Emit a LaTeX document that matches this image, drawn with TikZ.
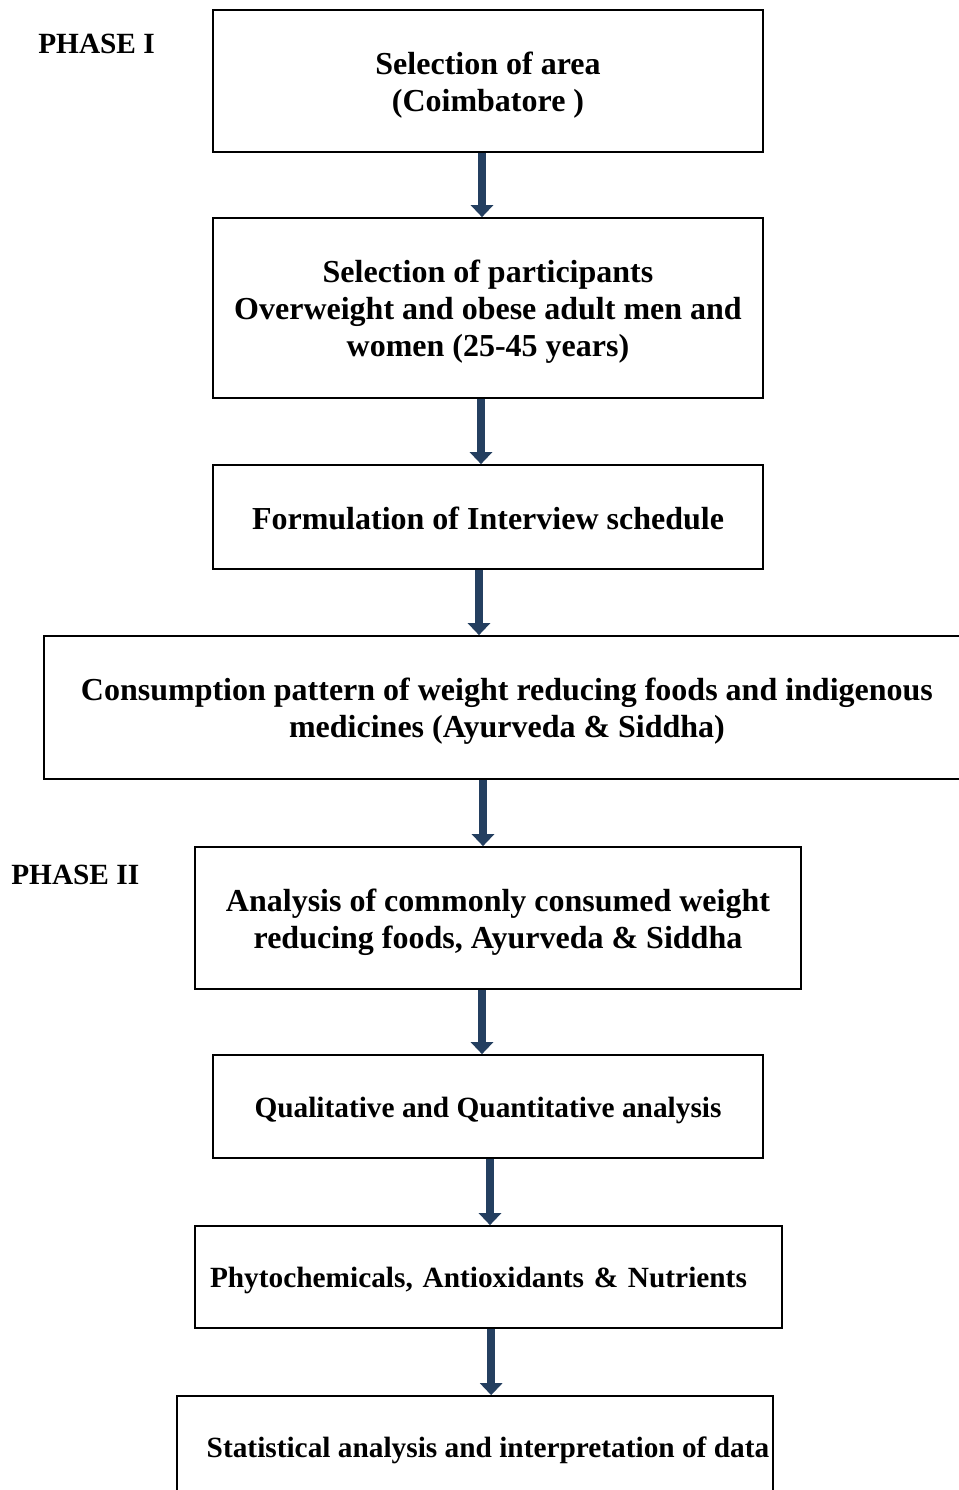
\documentclass[tikz,border=0pt]{standalone}
\usepackage{fontspec}
\setmainfont{Liberation Serif}
\usetikzlibrary{arrows.meta}
\definecolor{arrowblue}{RGB}{36,63,96}
\newcommand{\topgap}{\rule{0pt}{0.95em}}

\begin{document}
\begin{tikzpicture}[x=0.75pt,y=0.75pt,yscale=-1,xscale=1,
  stepbox/.style={draw=black,line width=1.3pt,align=center,inner sep=0pt,
    font=\fontsize{24}{27.75}\selectfont\bfseries,
    execute at begin node=\rule{0pt}{0.96em},
    execute at end node=\rule[-0.16em]{0pt}{0pt}},
  smallbox/.style={stepbox,font=\fontsize{22}{27.75}\selectfont\bfseries},
  phaselabel/.style={anchor=west,inner sep=0pt,font=\fontsize{22}{26}\selectfont\bfseries},
  flowarrow/.style={draw=arrowblue,line width=6pt,
    -{Triangle[width=16.5pt,length=9pt]},arrowblue}]
\useasboundingbox (0,0) rectangle (959,1490);
\clip (0,0) rectangle (959,1490);

% Text Node
\node (ph1) [phaselabel] at (38,44) {PHASE I};
% Text Node
\node (ph2) [phaselabel] at (11,875) {PHASE II};

%Shape: Rectangle
\node (b1) [stepbox,minimum width=412.5pt,minimum height=106.5pt] at (488,81)
  {\topgap Selection of area\\ (Coimbatore )};
%Shape: Rectangle
\node (b2) [stepbox,minimum width=412.5pt,minimum height=135pt] at (488,308)
  {\topgap Selection of participants\\ Overweight and obese adult men and\\ women (25-45 years)};
%Shape: Rectangle
\node (b3) [stepbox,minimum width=412.5pt,minimum height=78pt] at (488,517)
  {Formulation of Interview schedule};
%Shape: Rectangle
\node (b4) [stepbox,minimum width=694.5pt,minimum height=107.25pt] at (507,707.5)
  {\topgap Consumption pattern of weight reducing foods and indigenous\\ medicines (Ayurveda \& Siddha)};
%Shape: Rectangle
\node (b5) [stepbox,minimum width=454.5pt,minimum height=106.5pt] at (498,918)
  {\topgap Analysis of commonly consumed weight\\ reducing foods, Ayurveda \& Siddha};
%Shape: Rectangle
\node (b6) [smallbox,minimum width=412.5pt,minimum height=77.25pt] at (488,1106.5)
  {Qualitative and Quantitative analysis};
%Shape: Rectangle
\node (b7) [smallbox,align=left,text width=417.75pt,inner xsep=11.25pt,minimum height=76.5pt] at (488.5,1277)
  {Phytochemicals, Antioxidants \& Nutrients};
%Shape: Rectangle
\node (b8) [smallbox,minimum width=447pt,minimum height=76.5pt] at (475,1447)
  {\hspace*{19.5pt}Statistical analysis and interpretation of data};

%Arrows
\draw [flowarrow] ([xshift=-4.5pt]b1.south) -- ([xshift=-4.5pt]b2.north);
\draw [flowarrow] ([xshift=-5.25pt]b2.south) -- ([xshift=-5.25pt]b3.north);
\draw [flowarrow] ([xshift=-6.75pt]b3.south) -- ([xshift=-6.75pt]b3.south |- b4.north);
\draw [flowarrow] ([xshift=-18pt]b4.south) -- ([xshift=-18pt]b4.south |- b5.north);
\draw [flowarrow] ([xshift=-12pt]b5.south) -- ([xshift=-12pt]b5.south |- b6.north);
\draw [flowarrow] ([xshift=1.5pt]b6.south) -- ([xshift=1.5pt]b6.south |- b7.north);
\draw [flowarrow] ([xshift=2pt]b7.south) -- ([xshift=2pt]b7.south |- b8.north);

\end{tikzpicture}
\end{document}
